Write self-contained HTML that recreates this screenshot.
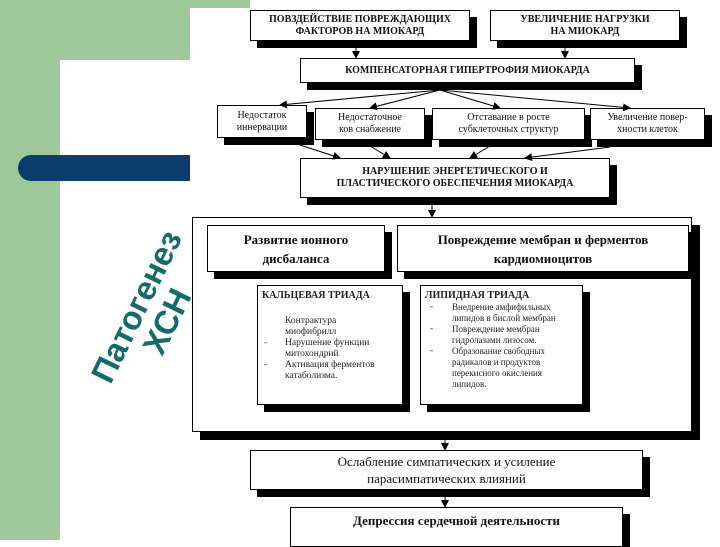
<!DOCTYPE html>
<html><head><meta charset="utf-8"><style>
*{margin:0;padding:0;box-sizing:border-box}
body{width:720px;height:540px;position:relative;overflow:hidden;background:#fff;font-family:"Liberation Serif",serif;}
.g{position:absolute;background:#9cc89a}
.b{position:absolute;background:#fff;border:1px solid #000;box-shadow:7px 7px 0 #000;text-align:center;color:#111;font-size:10px;line-height:12px;display:flex;flex-direction:column;justify-content:center}
.bold{font-weight:bold}
.t{position:absolute;font-size:9.5px;line-height:11px;color:#222}
</style></head><body>
<div class="g" style="left:0;top:0;width:60px;height:540px"></div>
<div class="g" style="left:0;top:0;width:190px;height:60px"></div>
<div class="g" style="left:190px;top:0;width:60px;height:8px"></div>
<div style="position:absolute;left:60px;top:60px;width:140px;height:480px;background:#fff;border-top-left-radius:20px"></div>
<div style="position:absolute;left:18px;top:155px;width:172px;height:26px;background:#0b3c6c;border-radius:13px 0 0 13px"></div>
<div style="position:absolute;left:32px;top:280px;width:240px;height:68px;transform:rotate(-64deg);transform-origin:center;font-family:'Liberation Sans',sans-serif;font-size:33px;line-height:34px;color:#176a6a;text-align:center;font-weight:bold">Патогенез<br>ХСН</div>

<div class="b bold" style="left:250px;top:10px;width:220px;height:31px">ПОВЗДЕЙСТВИЕ ПОВРЕЖДАЮЩИХ<br>ФАКТОРОВ НА МИОКАРД</div>
<div class="b bold" style="left:490px;top:10px;width:190px;height:31px">УВЕЛИЧЕНИЕ НАГРУЗКИ<br>НА МИОКАРД</div>
<div class="b bold" style="left:300px;top:58px;width:335px;height:25px">КОМПЕНСАТОРНАЯ ГИПЕРТРОФИЯ МИОКАРДА</div>
<div class="b" style="left:217px;top:105px;width:90px;height:33px">Недостаток<br>иннервации</div>
<div class="b" style="left:315px;top:108px;width:110px;height:32px">Недостаточное<br>ков снабжение</div>
<div class="b" style="left:432px;top:108px;width:153px;height:32px">Отставание в росте<br>субклеточных структур</div>
<div class="b" style="left:590px;top:108px;width:115px;height:32px">Увеличение повер-<br>хности клеток</div>
<div class="b bold" style="left:300px;top:158px;width:310px;height:40px">НАРУШЕНИЕ ЭНЕРГЕТИЧЕСКОГО И<br>ПЛАСТИЧЕСКОГО ОБЕСПЕЧЕНИЯ МИОКАРДА</div>

<div class="b" style="left:192px;top:217px;width:500px;height:215px;box-shadow:8px 8px 0 #000"></div>
<div class="b bold" style="left:207px;top:225px;width:178px;height:47px;font-size:13px;line-height:19px">Развитие ионного<br>дисбаланса</div>
<div class="b bold" style="left:397px;top:225px;width:292px;height:47px;font-size:13px;line-height:19px">Повреждение мембран и ферментов<br>кардиомиоцитов</div>
<div class="b" style="left:257px;top:285px;width:146px;height:120px;display:block;text-align:left"></div>
<div class="t bold" style="left:262px;top:290px;font-weight:bold;font-size:10px">КАЛЬЦЕВАЯ ТРИАДА</div>
<div class="t" style="left:285px;top:316px;width:115px">Контрактура<br>миофибрилл<br>Нарушение функции<br>митохондрий<br>Активация ферментов<br>катаболизма.</div>
<div class="t" style="left:264px;top:338px">-<br><br>-</div>
<div class="b" style="left:420px;top:285px;width:163px;height:120px;display:block"></div>
<div class="t" style="left:425px;top:290px;font-weight:bold;font-size:10px">ЛИПИДНАЯ ТРИАДА</div>
<div class="t" style="left:452px;top:302px;width:130px;font-size:9px;line-height:11px">Внедрение амфифильных<br>липидов в бислой мембран<br>Повреждение мембран<br>гидролазами лизосом.<br>Образование свободных<br>радикалов и продуктов<br>перекисного окисления<br>липидов.</div>
<div class="t" style="left:430px;top:302px;line-height:11px">-<br><br>-<br><br>-</div>

<div class="b" style="left:250px;top:450px;width:393px;height:40px;font-size:13px;line-height:17px">Ослабление симпатических и усиление<br>парасимпатических влияний</div>
<div class="b bold" style="left:290px;top:507px;width:333px;height:40px;font-size:13px;justify-content:flex-start;padding-top:7px">Депрессия сердечной деятельности</div>

<svg style="position:absolute;left:0;top:0" width="720" height="540">
<defs><marker id="a" markerWidth="8" markerHeight="8" refX="7" refY="4" orient="auto"><path d="M0,0L8,4L0,8z" fill="#000"/></marker></defs>
<g stroke="#000" stroke-width="1" fill="none" marker-end="url(#a)">
<line x1="356" y1="48" x2="356" y2="58"/>
<line x1="565" y1="48" x2="565" y2="58"/>
<line x1="440" y1="90" x2="280" y2="105"/>
<line x1="440" y1="90" x2="370" y2="108"/>
<line x1="440" y1="90" x2="500" y2="108"/>
<line x1="440" y1="90" x2="630" y2="108"/>
<line x1="300" y1="145" x2="340" y2="158"/>
<line x1="370" y1="146" x2="390" y2="158"/>
<line x1="490" y1="146" x2="470" y2="158"/>
<line x1="610" y1="147" x2="525" y2="158"/>
<line x1="432" y1="205" x2="432" y2="217"/>
<line x1="445" y1="440" x2="445" y2="450"/>
<line x1="445" y1="497" x2="445" y2="507"/>
</g></svg>
</body></html>
